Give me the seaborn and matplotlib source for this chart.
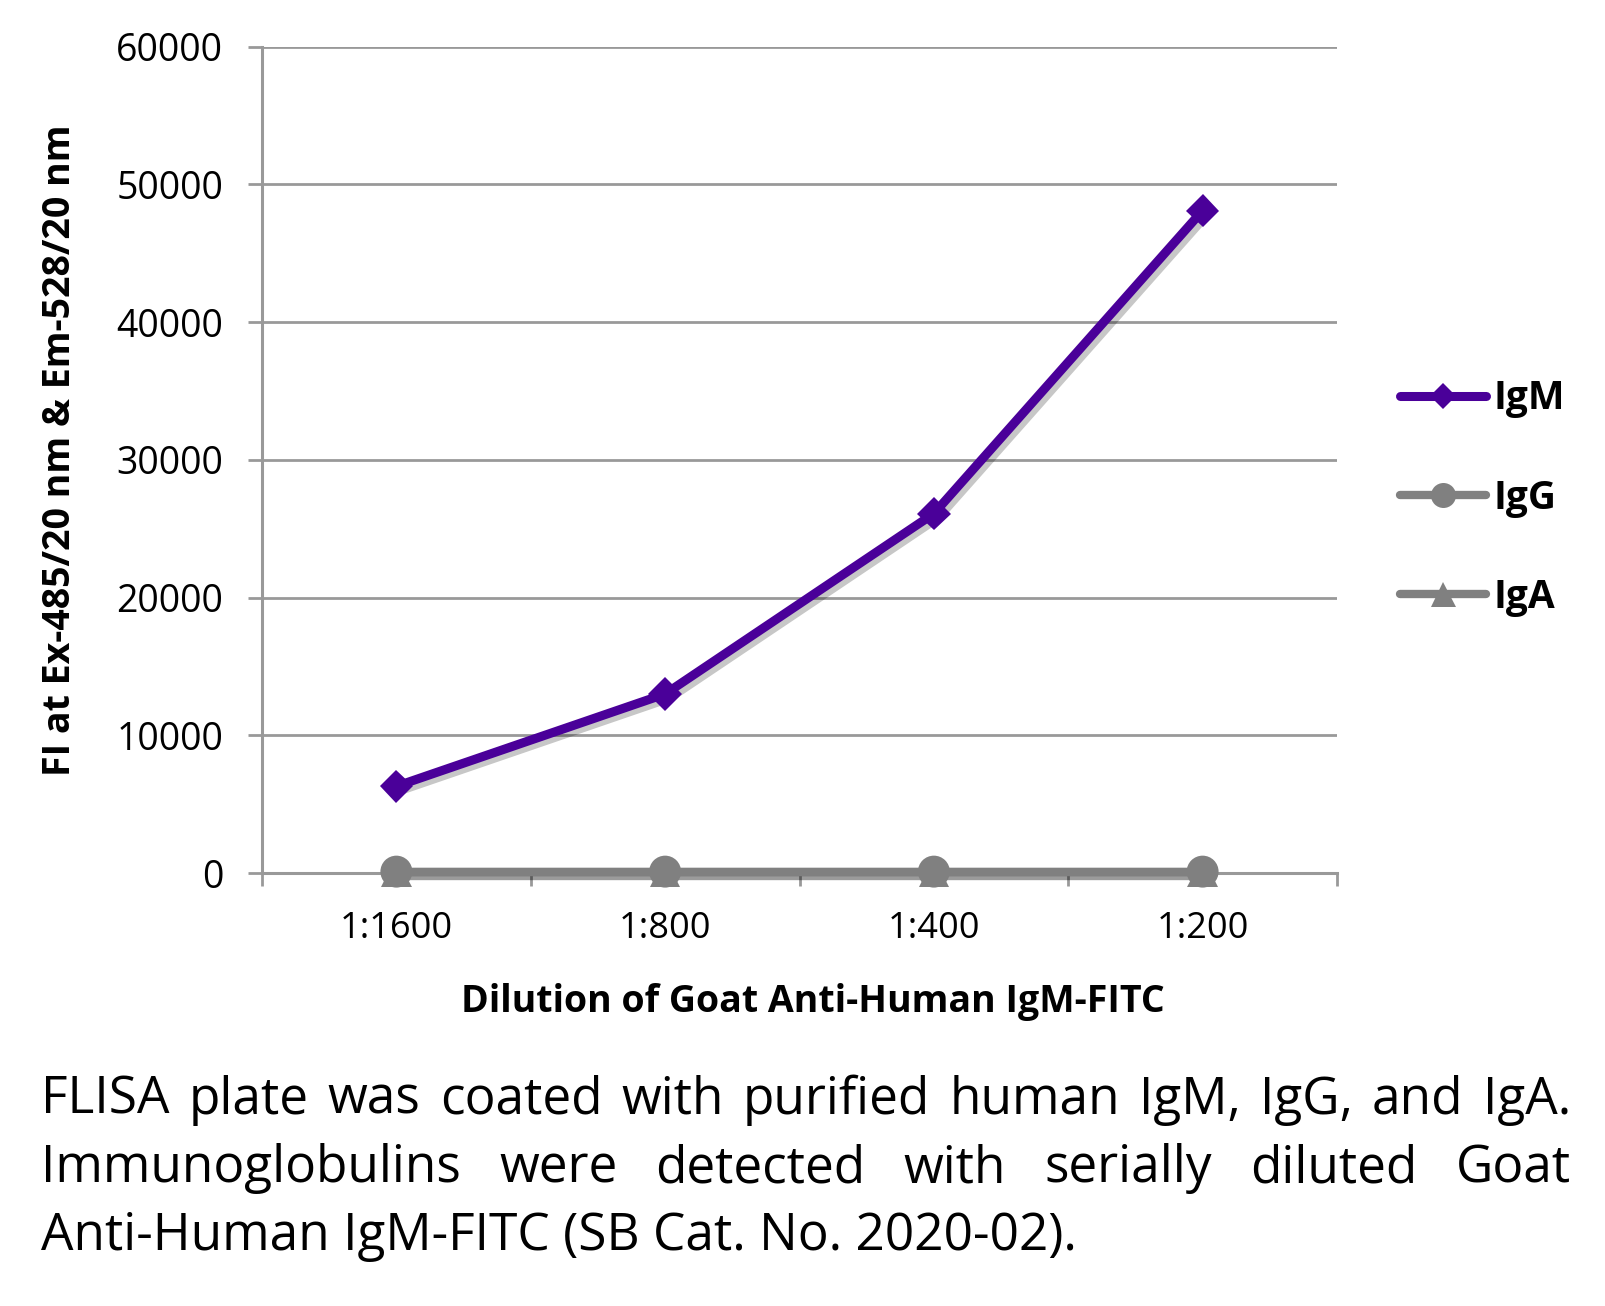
import matplotlib
matplotlib.use("Agg")
import matplotlib.pyplot as plt
import matplotlib.patheffects as pe
from matplotlib.lines import Line2D
import pandas as pd
import seaborn as sns

# ── Data ──────────────────────────────────────────────────────────────────────
dilutions = ["1:1600", "1:800", "1:400", "1:200"]
igm = [6300, 13000, 26100, 48100]
igg = [100, 100, 100, 100]
iga = [80, 80, 80, 80]
series_names = ["IgM", "IgG", "IgA"]

sns.set_theme(style="white")
plt.rcParams["font.family"] = ["Open Sans", "DejaVu Sans"]
plt.rcParams["text.color"] = "black"
plt.rcParams["axes.labelcolor"] = "black"
plt.rcParams["xtick.labelcolor"] = "black"
plt.rcParams["ytick.labelcolor"] = "black"

PURPLE = "#4a0099"
GRAY = "#808080"
GRID = "#999999"

df = pd.DataFrame({
    "dilution": dilutions * 3,
    "value": igm + igg + iga,
    "series": sum([[n] * len(dilutions) for n in series_names], []),
})

fig = plt.figure(figsize=(16.05, 13.06), dpi=100)
ax = fig.add_axes([262 / 1605, 1 - 873 / 1306, 1075 / 1605, 826.3 / 1306])

shadow = [pe.SimpleLineShadow(offset=(3, -3), shadow_color="black", alpha=0.22),
          pe.Normal()]

styles = {
    "IgA": dict(color=GRAY, marker="^", ms=22, lw=6, z=3),
    "IgG": dict(color=GRAY, marker="o", ms=23, lw=6, z=4),
    "IgM": dict(color=PURPLE, marker="D", ms=17, lw=6.5, z=5),
}
for name in ["IgA", "IgG", "IgM"]:
    st = styles[name]
    sub = df[df["series"] == name]
    sns.lineplot(data=sub, x="dilution", y="value", ax=ax, color=st["color"],
                 marker=st["marker"], markersize=st["ms"], linewidth=st["lw"],
                 markeredgewidth=0, zorder=st["z"], sort=False, clip_on=False)
    ax.lines[-1].set_path_effects(shadow)

ax.set_xlim(-0.5, 3.5)
ax.set_ylim(0, 60000)
ax.set_yticks(range(0, 60001, 10000))
ax.set_xticks(range(len(dilutions)))
ax.set_xticklabels(dilutions)
ax.set_xticks([i - 0.5 for i in range(len(dilutions) + 1)], minor=True)

ax.grid(axis="y", color=GRID, linewidth=2)
ax.set_axisbelow(True)
for side in ["top", "right"]:
    ax.spines[side].set_visible(False)
for side in ["left", "bottom"]:
    ax.spines[side].set_color(GRID)
    ax.spines[side].set_linewidth(2.2)

ax.tick_params(axis="y", which="major", left=True, length=10, width=2,
               color=GRID, pad=18, labelsize=27)
ax.tick_params(axis="x", which="major", bottom=False, length=0, pad=27,
               labelsize=26)
ax.tick_params(axis="x", which="minor", bottom=True, length=9, width=2,
               color=GRID, direction="out")

ax.set_xlabel("Dilution of Goat Anti-Human IgM-FITC", fontsize=27,
              fontweight="bold")
ax.xaxis.set_label_coords(0.5126, -0.133)
ax.set_ylabel("FI at Ex-485/20 nm & Em-528/20 nm", fontsize=27,
              fontweight="bold")
ax.yaxis.set_label_coords(-0.17, 0.512)

# legend
handles = [
    Line2D([], [], color=PURPLE, marker="D", ms=13, lw=6.5, mew=0,
           solid_capstyle="round"),
    Line2D([], [], color=GRAY, marker="o", ms=18, lw=6, mew=0,
           solid_capstyle="round"),
    Line2D([], [], color=GRAY, marker="^", ms=18, lw=6, mew=0,
           solid_capstyle="round"),
]
leg = fig.legend(handles, series_names, loc="center left",
                 bbox_to_anchor=(1400 / 1605, 1 - 498 / 1306),
                 frameon=False, fontsize=28, handlelength=2.2,
                 handletextpad=0.2, labelspacing=1.55, borderpad=0,
                 borderaxespad=0)
for t in leg.get_texts():
    t.set_fontweight("bold")

# caption (justified)
cap_size = 37
x0, x1 = 41 / 1605, 1571 / 1605
lines = [
    "FLISA plate was coated with purified human IgM, IgG, and IgA.",
    "Immunoglobulins were detected with serially diluted Goat",
    "Anti-Human IgM-FITC (SB Cat. No. 2020-02).",
]
ys = [1 - 1100 / 1306, 1 - 1169 / 1306, 1 - 1237 / 1306]
renderer = fig.canvas.get_renderer()
for i, (line, y) in enumerate(zip(lines, ys)):
    if i == len(lines) - 1:
        fig.text(x0, y, line, fontsize=cap_size, va="center", ha="left")
        continue
    words = line.split(" ")
    texts = [fig.text(0, y, w, fontsize=cap_size, va="center", ha="left")
             for w in words]
    widths = [t.get_window_extent(renderer).width / fig.bbox.width for t in texts]
    gap = (x1 - x0 - sum(widths)) / (len(words) - 1)
    x = x0
    for t, w in zip(texts, widths):
        t.set_x(x)
        x += w + gap

fig.savefig("out.png", dpi=100)
